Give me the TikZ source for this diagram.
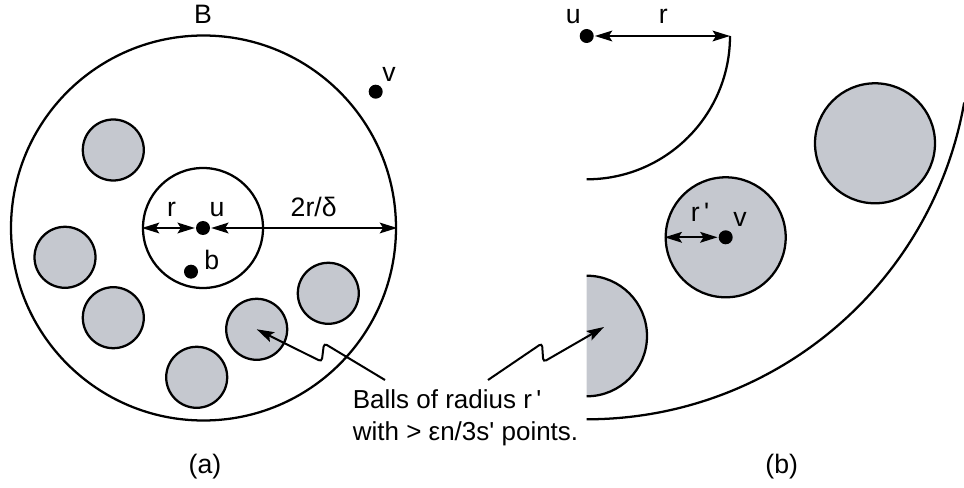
\documentclass[tikz,border=0pt]{standalone}
\usepackage{fontspec}
\setmainfont{Liberation Sans}
\usetikzlibrary{arrows.meta}
\definecolor{ballgray}{RGB}{197,200,207}
\begin{document}
\begin{tikzpicture}[x=0.75pt,y=0.75pt,
  line width=1.7pt,
  ball/.style={circle,draw,fill=ballgray,inner sep=0pt,minimum size=45.75pt},
  bigball/.style={circle,draw,fill=ballgray,inner sep=0pt,minimum size=90pt},
  ring/.style={circle,draw,inner sep=0pt},
  dot/.style={circle,fill=black,inner sep=0pt,minimum size=10.5pt},
  lab/.style={font=\fontsize{20}{24}\selectfont,inner sep=0pt,anchor=base},
  tipA/.tip={Stealth[length=13pt,width=8pt,inset=2.5pt]},
  dimarrow/.style={tipA-tipA},
  lead/.style={-tipA,line width=1.5pt,rounded corners=2.5pt}]
\useasboundingbox (0,0) rectangle (964,-488);

% ---------- panel (a) ----------
\node[ring,minimum size=288.75pt] (BA) at (203.5,-228) {};
\node[lab] (Blab) at (203,-23.3) {B};
\node[ball] (a1) at (113.3,-150) {};
\node[ball] (a2) at (65,-257.3) {};
\node[ball] (a3) at (113.3,-317.7) {};
\node[ball] (a4) at (196.7,-377.3) {};
\node[ball] (a5) at (256.7,-329.3) {};
\node[ball] (a6) at (328.3,-293.3) {};
\node[ring,minimum size=90pt] (innerA) at (203,-228) {};
\node[dot] (uA) at (203,-228) {};
\node[dot] (bA) at (191,-271.7) {};
\node[dot] (vA) at (375.7,-91.7) {};
\draw[dimarrow] (innerA.west) -- (uA);
\draw[dimarrow] (uA) -- (BA.east);
\node[lab] (rlabA) at (171.5,-216.7) {r};
\node[lab] (ulabA) at (217,-216.7) {u};
\node[lab] (dlabA) at (313.7,-216.7) {2r/δ};
\node[lab] (blabA) at (211.7,-270) {b};
\node[lab] (vlabA) at (389,-81.7) {v};
\node[lab] (capA) at (205,-473) {(a)};

% ---------- panel (b) ----------
\node[dot] (uB) at (586.7,-36) {};
\coordinate (rend) at (730,-36);
\draw[dimarrow] (uB) -- (rend);
\draw (rend) arc[start angle=0,end angle=-90,radius=143.3];
\coordinate (outerstart) at (586.7,-419.3);
\draw (outerstart) arc[start angle=-90,end angle=-10,radius=383.3];
\coordinate (halftop) at (586.7,-275.7);
\fill[ballgray] (halftop) arc[start angle=90,end angle=-90,radius=60.3] -- cycle;
\draw (halftop) arc[start angle=90,end angle=-90,radius=60.3];
\node[bigball] (vball) at (725.7,-237.3) {};
\node[bigball] (tball) at (875,-143.3) {};
\node[dot] (vB) at (725.7,-237.3) {};
\draw[dimarrow] (vball.west) -- (vB);
\node[lab] (ulabB) at (573.3,-23.3) {u};
\node[lab] (rlabB) at (663.3,-23.3) {r};
\node[lab] (rplabB) at (700,-221.7) {r\,\textquotesingle};
\node[lab] (vlabB) at (740,-227) {v};
\node[lab] (capB) at (781.7,-473) {(b)};

% ---------- shared callout ----------
\node[font=\fontsize{19.5}{23.8}\selectfont,inner sep=0pt,anchor=base west,align=left]
  (note) at (351.7,-440) {Balls of radius r\,\textquotesingle\\with > εn/3s\textquotesingle{} points.};
\coordinate (leadL) at (385,-380);
\coordinate (leadR) at (488,-380);
\coordinate (tipR) at (604,-327);
\draw[lead] (leadL) -- (324,-343.3) -- (321.7,-361.7) -- (a5.center);
\draw[lead] (leadR) -- (542,-343.3) -- (543.3,-362) -- (tipR);
\end{tikzpicture}
\end{document}
